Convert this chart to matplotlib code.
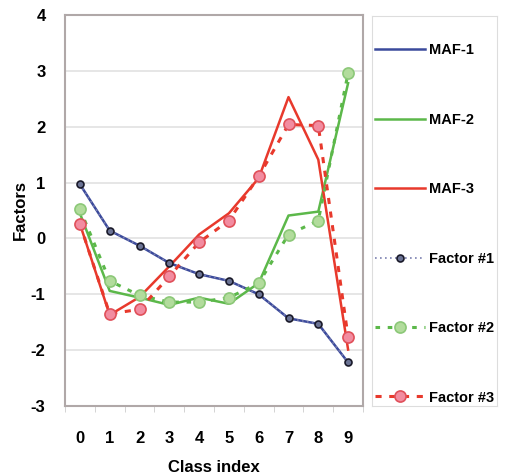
import numpy as np
import matplotlib
matplotlib.use("Agg")
import matplotlib.pyplot as plt

plt.rcParams['font.family'] = ['Liberation Sans', 'DejaVu Sans']
plt.rcParams['font.weight'] = 'bold'
plt.rcParams['axes.unicode_minus'] = False

classes = list(range(10))
maf1 = [0.97, 0.14, -0.13, -0.44, -0.64, -0.76, -1.00, -1.43, -1.53, -2.22]
maf2 = [0.45, -0.94, -1.06, -1.19, -1.06, -1.17, -0.80, 0.41, 0.48, 2.78]
maf3 = [0.26, -1.37, -1.05, -0.50, 0.07, 0.45, 1.08, 2.53, 1.41, -1.99]
factor1 = [0.97, 0.14, -0.13, -0.44, -0.64, -0.76, -1.00, -1.43, -1.53, -2.22]
factor2 = [0.53, -0.76, -1.02, -1.14, -1.14, -1.06, -0.80, 0.07, 0.32, 2.96]
factor3 = [0.26, -1.35, -1.27, -0.68, -0.07, 0.32, 1.11, 2.04, 2.02, -1.77]

blue = '#3b4a9c'
green = '#5cb84a'
red = '#e8392c'

fig = plt.figure(figsize=(5.05, 4.74), dpi=100)
ax = fig.add_axes([65 / 505, 68 / 474, 298 / 505, 391 / 474])

h1, = ax.plot(classes, maf1, color=blue, lw=1.8, label='MAF-1')
h2, = ax.plot(classes, maf2, color=green, lw=1.8, label='MAF-2')
h3, = ax.plot(classes, maf3, color=red, lw=1.8, label='MAF-3')
h4, = ax.plot(classes, factor1, color='#7a7fb0', lw=1.2, ls=(0, (1, 2)),
              marker='o', ms=5, mfc='#6b7394', mec='#1a1a2a', mew=1.2,
              label='Factor #1')
h5, = ax.plot(classes, factor2, color=green, lw=2.2, ls=(0, (1.5, 2.5)),
              marker='o', ms=8, mfc='#b2dc9c', mec='#8cc878', mew=1.2,
              label='Factor #2')
h6, = ax.plot(classes, factor3, color=red, lw=2.2, ls=(0, (2, 2.5)),
              marker='o', ms=8, mfc='#f28ca0', mec='#e0505a', mew=1.2,
              label='Factor #3')

ax.set_xlim(-0.5, 9.5)
ax.set_ylim(-3, 4)
ax.set_xticks(classes)
ax.set_xticks(np.arange(-0.5, 10, 1), minor=True)
ax.set_yticks(range(-3, 5))
ax.tick_params(axis='both', which='major', length=0, labelsize=12)
ax.tick_params(axis='x', which='major', pad=18)
ax.tick_params(axis='y', which='major', pad=14)
ax.tick_params(axis='x', which='minor', length=4, color='#cccccc')
ax.grid(axis='y', color='#e2e2e2', lw=1.2)
ax.set_axisbelow(True)
for s in ax.spines.values():
    s.set_color('#b0a8a8')
    s.set_linewidth(1.5)
ax.set_xlabel('Class index', fontsize=12, fontweight='bold', labelpad=10)
ax.set_ylabel('Factors', fontsize=12, fontweight='bold', labelpad=2)

lax = fig.add_axes([372 / 505, 68 / 474, 125 / 505, 390 / 474])
lax.set_xticks([])
lax.set_yticks([])
for s in lax.spines.values():
    s.set_color('#dddddd')
lax.legend(handles=[h1, h2, h3, h4, h5, h6], loc='center',
           bbox_to_anchor=(0.5, 0.5 - 13 / 390), frameon=False,
           fontsize=10.5, handlelength=3.4, handletextpad=0.3,
           labelspacing=3.8, borderaxespad=0, borderpad=0.2)

fig.savefig('out.png', dpi=100)
